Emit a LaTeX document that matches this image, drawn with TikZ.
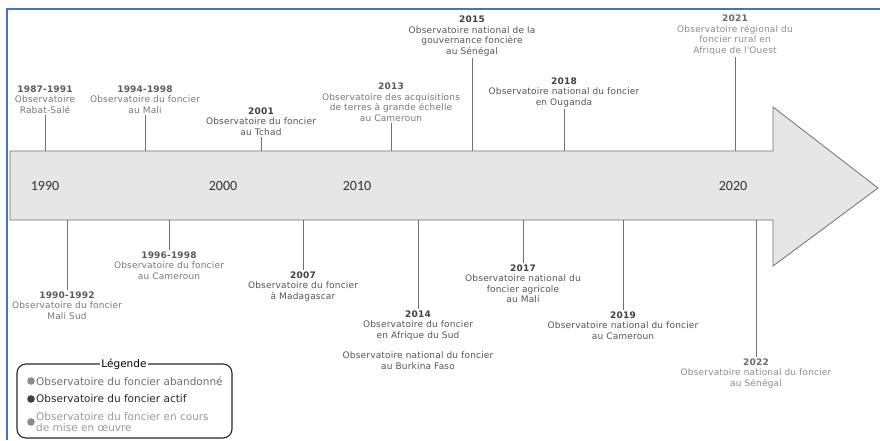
\documentclass[tikz,border=0pt]{standalone}
\usepackage{fontspec}
\setmainfont{DejaVu Sans}
\newfontfamily\lblfont[LetterSpace=2]{DejaVu Sans}
\newfontfamily\calfont{Carlito}
\definecolor{framecol}{RGB}{68,114,196}
\definecolor{bodycol}{RGB}{230,230,230}
\definecolor{linecol}{RGB}{112,112,112}
\definecolor{abcol}{RGB}{120,120,120}
\definecolor{accol}{RGB}{85,85,85}
\definecolor{occol}{RGB}{140,140,140}
\tikzset{
  lbl/.style={align=center,inner sep=1.5pt,font=\lblfont\fontsize{9}{10.5}\selectfont},
  ab/.style={lbl,text=abcol},
  ac/.style={lbl,text=accol},
  oc/.style={lbl,text=occol},
  tick/.style={draw=linecol,line width=0.9pt},
  decade/.style={font=\calfont\fontsize{14}{16}\selectfont,text=black!80},
  legitem/.style={inner sep=1pt,align=left,font=\fontsize{10.5}{11.5}\selectfont}
}
\begin{document}
\begin{tikzpicture}[x=1pt,y=-1pt]
\useasboundingbox (0,0) rectangle (880,440);
\draw[framecol,line width=1.4pt] (7,440) -- (7,9) -- (880,9);
\draw[fill=bodycol,draw=linecol,line width=0.8pt] (10,151) -- (773,151) -- (773,107) -- (878,188) -- (773,266) -- (773,220) -- (10,220) -- cycle;
\coordinate (top) at (0,151);
\coordinate (bot) at (0,220);
\foreach \x/\yr in {45/1990,223/2000,357/2010,733/2020}
  \node[decade] (d\yr) at (\x,186) {\yr};
\foreach \x/\y/\yr/\txt/\st [count=\n] in {
  45/115/{1987-1991}/{Observatoire\\Rabat-Salé}/ab,
  145/115/{1994-1998}/{Observatoire du foncier\\au Mali}/ab,
  261/137/{2001}/{Observatoire du foncier\\au Tchad}/ac,
  391/123/{2013}/{Observatoire des acquisitions\\de terres à grande échelle\\au Cameroun}/ab,
  472/58/{2015}/{Observatoire national de la\\gouvernance foncière\\au Sénégal}/ac,
  564/109/{2018}/{Observatoire national du foncier\\en Ouganda}/ac,
  735/57/{2021}/{Observatoire régional du\\foncier rural en\\Afrique de l'Ouest}/oc}{
  \node[\st,anchor=south] (up\n) at (\x,\y) {{\bfseries\color{.!75!black}\yr}\\\txt};
  \draw[tick] (up\n.south) -- (up\n.south |- top);
}
\foreach \x/\y/\yr/\txt/\st [count=\n] in {
  67/290/{1990-1992}/{Observatoire du foncier\\Mali Sud}/ab,
  169/250/{1996-1998}/{Observatoire du foncier\\au Cameroun}/ab,
  303/270/{2007}/{Observatoire du foncier\\à Madagascar}/ac,
  418/309/{2014}/{Observatoire du foncier\\en Afrique du Sud\\[10pt]Observatoire national du foncier\\au Burkina Faso}/ac,
  523/263/{2017}/{Observatoire national du\\foncier agricole\\au Mali}/ac,
  623/310/{2019}/{Observatoire national du foncier\\au Cameroun}/ac,
  756/357/{2022}/{Observatoire national du foncier\\au Sénégal}/oc}{
  \node[\st,anchor=north] (dn\n) at (\x,\y) {{\bfseries\color{.!75!black}\yr}\\\txt};
  \draw[tick] (dn\n.north) -- (dn\n.north |- bot);
}
\draw[draw=black!85,line width=1.1pt,rounded corners=9pt] (17,364) rectangle (232,438);
\node[fill=white,inner sep=1pt,font=\fontsize{10.5}{12}\selectfont] (legtitle) at (124,364) {Légende};
\fill[black!45] (31,381) circle (3.8);
\fill[black!75] (31,399) circle (3.8);
\fill[black!45] (31,422) circle (3.8);
\node[legitem,anchor=west,text=black!57] (leg1) at (35,381) {Observatoire du foncier abandonné};
\node[legitem,anchor=west,text=black!85] (leg2) at (35,399) {Observatoire du foncier actif};
\node[legitem,anchor=west,text=black!40] (leg3) at (35,422) {Observatoire du foncier en cours\\de mise en œuvre};
\end{tikzpicture}
\end{document}
